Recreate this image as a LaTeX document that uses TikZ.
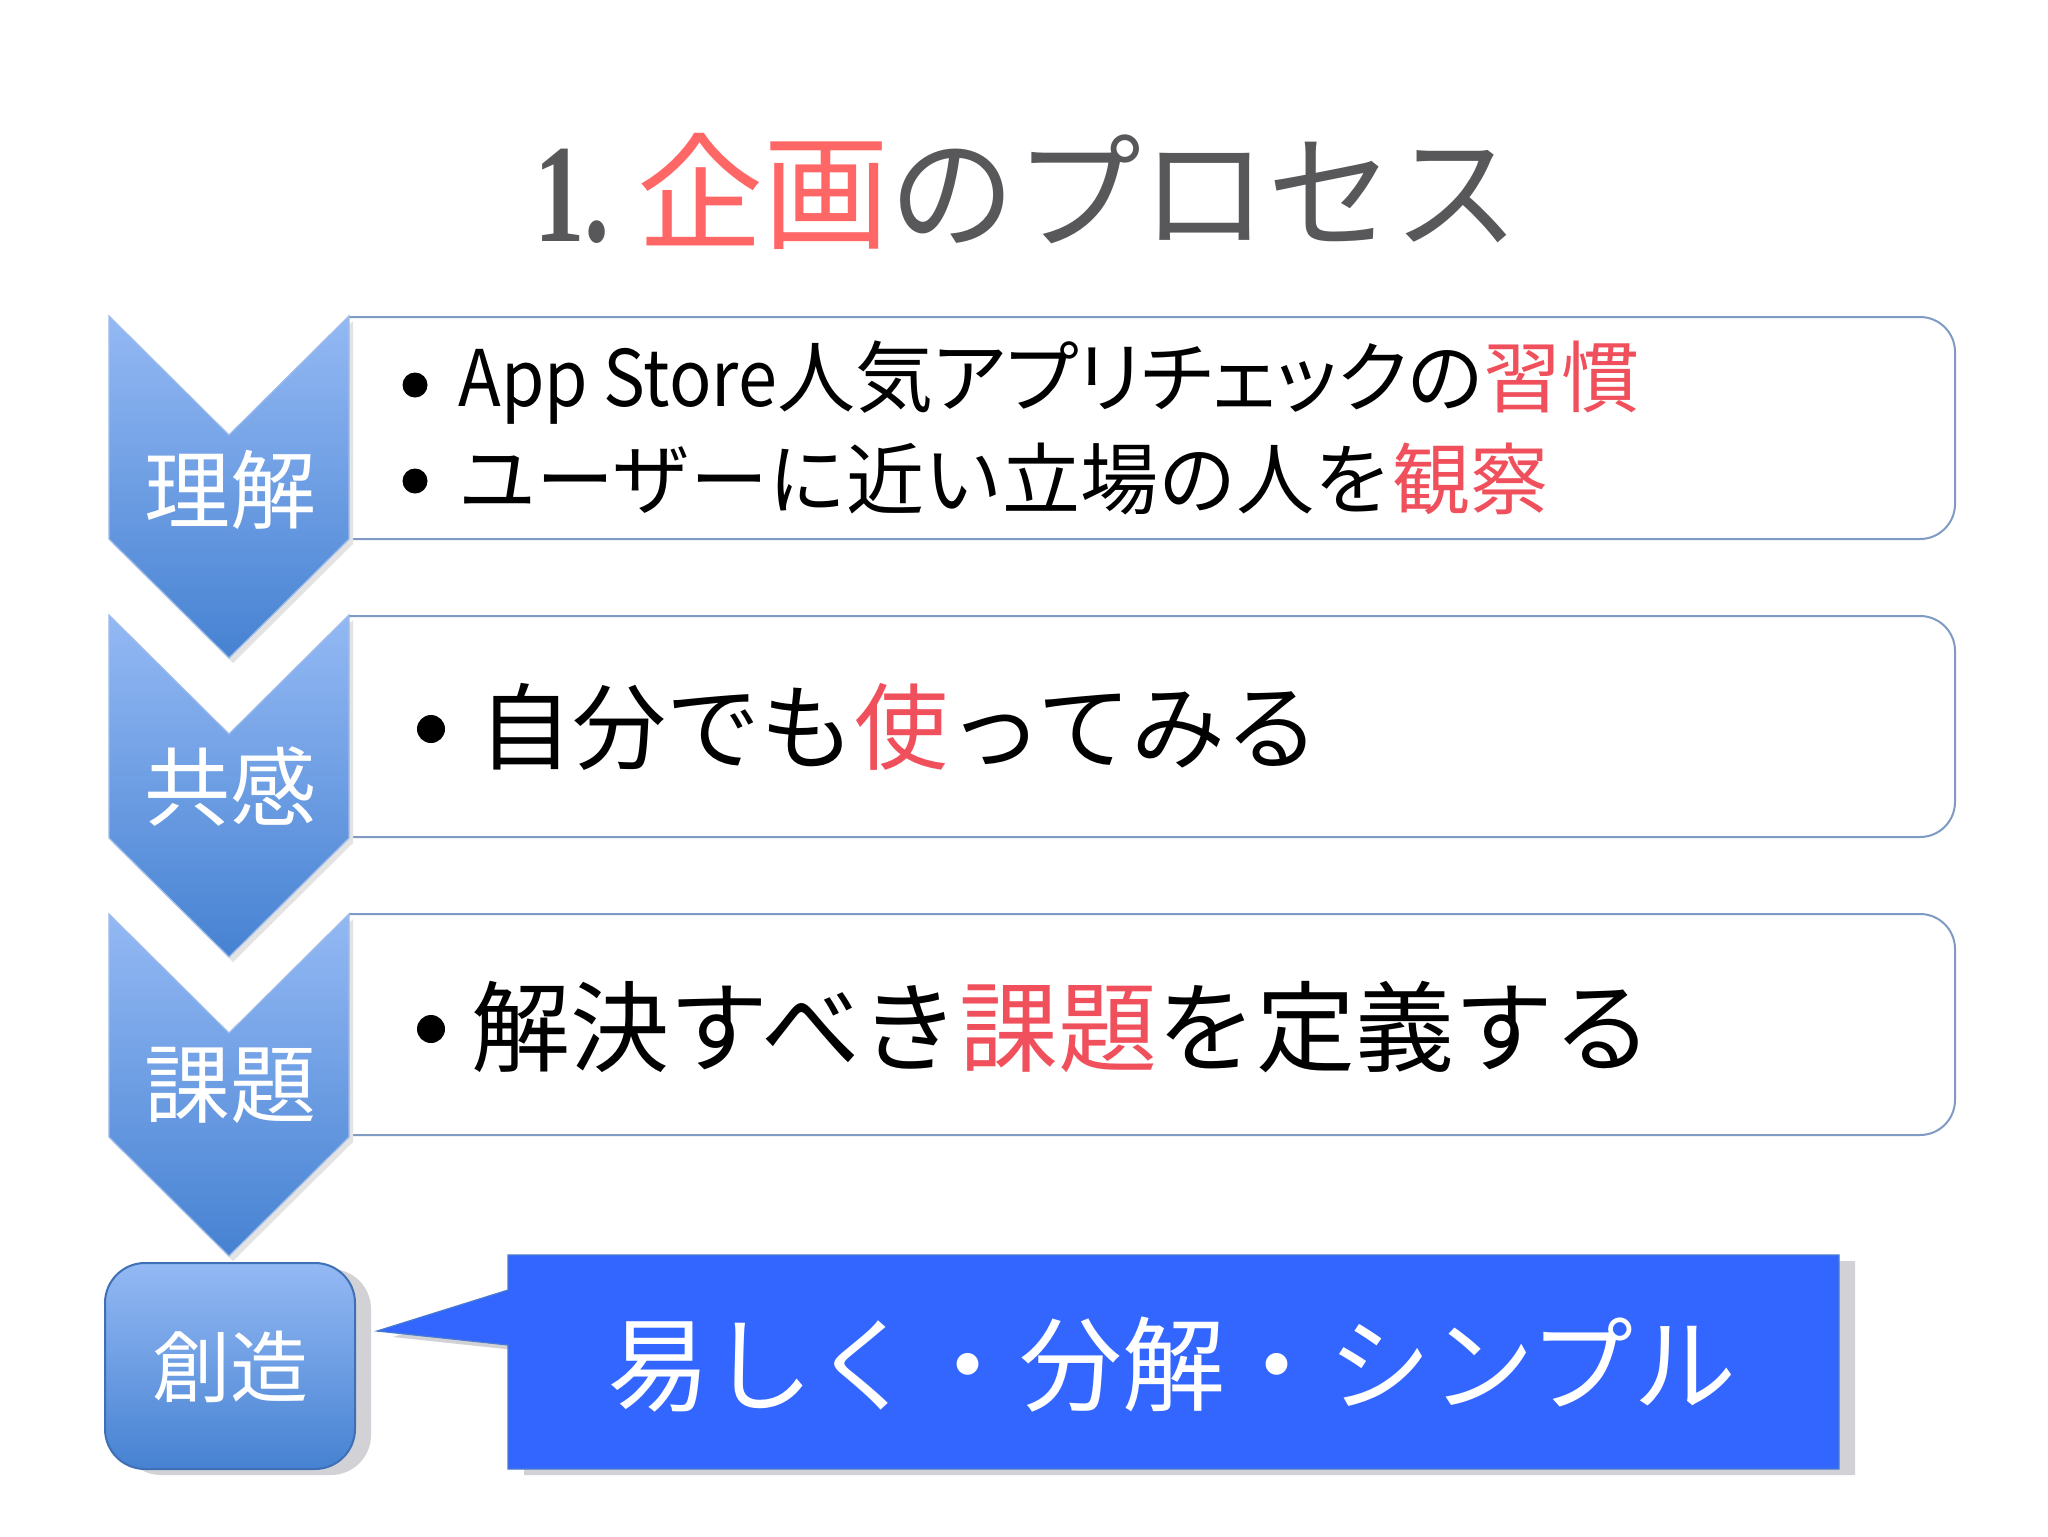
\documentclass[tikz,border=0pt]{standalone}
\usepackage{fontspec}
\setmainfont{Noto Sans CJK JP}
\newfontfamily\numfont[FakeStretch=0.72]{Liberation Serif}
\newfontfamily\paltfont[RawFeature=+palt]{Noto Sans CJK JP}
\newfontfamily\narrowlatin[FakeStretch=0.9]{Noto Sans CJK JP}
\definecolor{titlegray}{HTML}{58585B}
\definecolor{titlered}{HTML}{FF6666}
\definecolor{bodyred}{HTML}{F0505C}
\definecolor{chevtop}{HTML}{94B9F4}
\definecolor{chevbot}{HTML}{4682D2}
\definecolor{chevline}{HTML}{9DBCEB}
\definecolor{boxline}{HTML}{7F9BC4}
\definecolor{calloutblue}{HTML}{3366FF}
\definecolor{calloutline}{HTML}{4A7BD0}
\definecolor{shadowgray}{HTML}{D2D2D6}
\definecolor{sozoline}{HTML}{3F6FB5}
\begin{document}
\begin{tikzpicture}[x=0.5pt,y=-0.5pt,
  chev/.style={top color=chevtop, bottom color=chevbot, draw=chevline, line width=0.6pt},
  chevshadow/.style={fill=gray!22, draw=none},
  textbox/.style={draw=boxline, fill=white, line width=1pt, rounded corners=17.5pt},
  lbl/.style={text=white, inner sep=0, font=\fontsize{43}{50}\selectfont},
  bodytext/.style={anchor=west, inner sep=0, text=black},
  bulletdot/.style={circle, fill=black, draw=none, inner sep=0},
  shadowbox/.style={fill=shadowgray, draw=none}
]
\useasboundingbox[fill=white] (0,0) rectangle (2048,1536);

% title
\node[anchor=east, inner sep=0, text=titlegray, font=\numfont\bfseries\fontsize{70}{72}\selectfont] (titlenum) at (610,196) {1.};
\node[anchor=west, inner sep=0, text=titlegray, font=\fontsize{63}{70}\selectfont] (title) at (637,191)
  {{\color{titlered}企画}のプロセス};

% text boxes (drawn first, chevrons overlap their left ends)
\draw[textbox] (349,317) -- (1955,317) -- (1955,539) -- (349,539);
\draw[textbox] (349,616) -- (1955,616) -- (1955,837) -- (349,837);
\draw[textbox] (349,914) -- (1955,914) -- (1955,1135) -- (349,1135);

% chevron shadows
\fill[chevshadow] (113,321) -- (233,440) -- (353,321) -- (353,544) -- (233,663) -- (113,544) -- cycle;
\fill[chevshadow] (113,620) -- (233,739) -- (353,620) -- (353,843) -- (233,962) -- (113,843) -- cycle;
\fill[chevshadow] (113,919) -- (233,1038) -- (353,919) -- (353,1142) -- (233,1261) -- (113,1142) -- cycle;

% chevrons
\draw[chev] (109,316) -- (229,435) -- (349,316) -- (349,539) -- (229,658) -- (109,539) -- cycle;
\draw[chev] (109,615) -- (229,734) -- (349,615) -- (349,838) -- (229,957) -- (109,838) -- cycle;
\draw[chev] (109,914) -- (229,1033) -- (349,914) -- (349,1137) -- (229,1256) -- (109,1137) -- cycle;

\node[lbl] (l1) at (230,490) {理解};
\node[lbl] (l2) at (230,787) {共感};
\node[lbl] (l3) at (230,1085) {課題};

% box 1 text
\node[bulletdot, minimum size=12.5pt] (b1a) at (415,385) {};
\node[bodytext, font=\fontsize{39}{45}\selectfont] (t1a) at (458,383)
  {{\narrowlatin App Store}{\paltfont 人気アプリチェックの{\color{bodyred}習慣}}};
\node[bulletdot, minimum size=12.5pt] (b1b) at (415,481) {};
\node[bodytext, font=\fontsize{39}{45}\selectfont] (t1b) at (458,479)
  {ユーザーに近い立場の人を{\color{bodyred}観察}};

% box 2 text
\node[bulletdot, minimum size=14pt] (b2) at (431,729) {};
\node[bodytext, font=\fontsize{47}{52}\selectfont] (t2) at (478,727)
  {自分でも{\color{bodyred}使}ってみる};

% box 3 text
\node[bulletdot, minimum size=14pt] (b3) at (431,1029) {};
\node[bodytext, font=\fontsize{49.5}{54}\selectfont] (t3) at (471,1027)
  {解決すべき{\color{bodyred}課題}を定義する};

% sozo box
\fill[shadowbox, rounded corners=20pt] (121,1269) rectangle (371,1475);
\draw[top color=chevtop, bottom color=chevbot, draw=sozoline, line width=1pt, rounded corners=20pt]
  (105,1263) rectangle (355,1469);
\node[lbl, font=\fontsize{39}{45}\selectfont] (sozo) at (230,1367) {創造};

% callout
\fill[shadowbox] (524,1261) -- (1855,1261) -- (1855,1475) -- (524,1475) -- (524,1351) -- (393,1337) -- (524,1296) -- cycle;
\draw[fill=calloutblue, draw=calloutline, line width=0.6pt]
  (508,1255) -- (1839,1255) -- (1839,1469) -- (508,1469) -- (508,1345) -- (377,1331) -- (508,1290) -- cycle;
\node[inner sep=0, text=white, font=\fontsize{51.5}{56}\selectfont] (callout) at (1172,1365)
  {易しく・分解・シンプル};
\end{tikzpicture}
\end{document}
